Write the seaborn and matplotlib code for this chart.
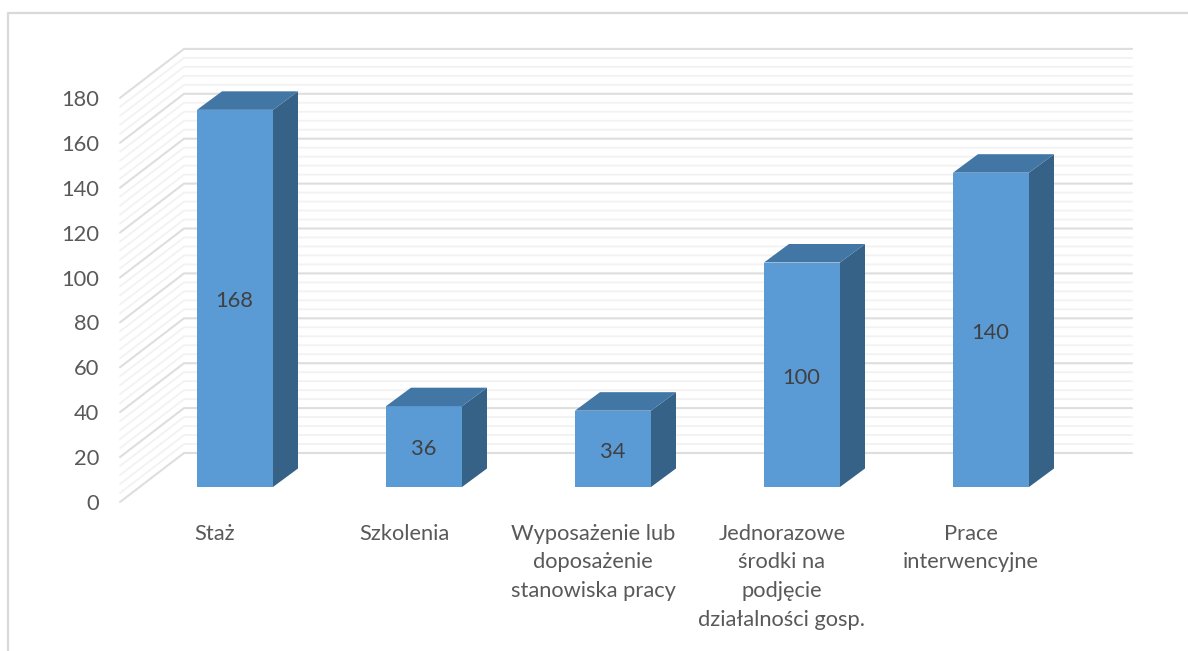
import numpy as np
import matplotlib
matplotlib.use("Agg")
import matplotlib.pyplot as plt
from matplotlib.lines import Line2D
from matplotlib.patches import Polygon
import seaborn as sns

# dane
kategorie = ["Staż", "Szkolenia", "Wyposażenie lub\ndoposażenie\nstanowiska pracy",
             "Jednorazowe\nśrodki na\npodjęcie\ndziałalności gosp.", "Prace\ninterwencyjne"]
wartosci = [168, 36, 34, 100, 140]
ticki_y = [0, 20, 40, 60, 80, 100, 120, 140, 160, 180]
siatka = list(range(0, 181, 4))

W, H = 1188, 651
SKALA = 2.245      # px na jednostke
KAT = 189          # px na kategorie
X0, Y0 = 235, 487  # srodek pierwszego slupka, podstawa
L, R, T, B = 120, 1132, 49, 502

# glebokosc "3D"
sciana_dx, sciana_dy = 64 / KAT, 49 / SKALA
slupek_dx, slupek_dy = 25 / KAT, 18.5 / SKALA

sns.set_theme(style="white")
plt.rcParams["font.family"] = ["Lato", "DejaVu Sans"]

fig = plt.figure(figsize=(W / 100, H / 100), dpi=100)
ax = fig.add_axes([L / W, 1 - B / H, (R - L) / W, (B - T) / H])

sns.barplot(x=list(range(5)), y=wartosci, color="#5b9bd5", saturation=1, width=76 / KAT,
            ax=ax, zorder=3, linewidth=0)

xmin, xmax = (L - X0) / KAT, (R - X0) / KAT
ymin, ymax = (Y0 - B) / SKALA, (Y0 - T) / SKALA
ax.set_xlim(xmin, xmax)
ax.set_ylim(ymin, ymax)

# siatka: sciana boczna i tylna
for v in siatka:
    major = v % 20 == 0
    kolor = "#dedede" if major else "#f2f2f2"
    lw = 1.5 if major else 1.3
    y_front = v + ymin
    y_back = y_front + sciana_dy
    ax.plot([xmin, xmin + sciana_dx, xmax], [y_front, y_back, y_back], color=kolor, lw=lw,
            zorder=2 if major else 1, solid_joinstyle="miter", clip_on=False)

# boki i gora slupkow
for p in list(ax.patches):
    x1 = p.get_x()
    x2 = x1 + p.get_width()
    h = p.get_height()
    ax.add_patch(Polygon([(x2, 0), (x2 + slupek_dx, slupek_dy), (x2 + slupek_dx, h + slupek_dy), (x2, h)],
                         closed=True, fc="#376288", ec="none", zorder=3))
    ax.add_patch(Polygon([(x1, h), (x1 + slupek_dx, h + slupek_dy), (x2 + slupek_dx, h + slupek_dy), (x2, h)],
                         closed=True, fc="#4276a5", ec="none", zorder=3))

etykiety = ax.bar_label(ax.containers[0], labels=[str(v) for v in wartosci], label_type="center",
                        fontsize=15.75, color="#404040", zorder=5)
for e in etykiety:
    e.xyann = (-0.5, -2)

ax.set_yticks([t + ymin for t in ticki_y], [str(t) for t in ticki_y])
ax.set_xticks([i - 20 / KAT for i in range(5)], kategorie)
ax.tick_params(axis="y", length=0, pad=15, labelsize=15.75, labelcolor="#595959")
ax.tick_params(axis="x", length=0, pad=15.5, labelsize=15.75, labelcolor="#595959")
for t in ax.get_xticklabels():
    t.set_linespacing(1.55)
ax.set_xlabel("")
ax.set_ylabel("")
sns.despine(ax=ax, left=True, bottom=True)
ax.patch.set_alpha(0)

# ramka wykresu (gora i lewa strona)
fig.add_artist(Line2D([8 / W, 8 / W, 1], [0, 1 - 12.5 / H, 1 - 12.5 / H], color="#d9d9d9", lw=1.6))

fig.savefig("out.png", dpi=100)
